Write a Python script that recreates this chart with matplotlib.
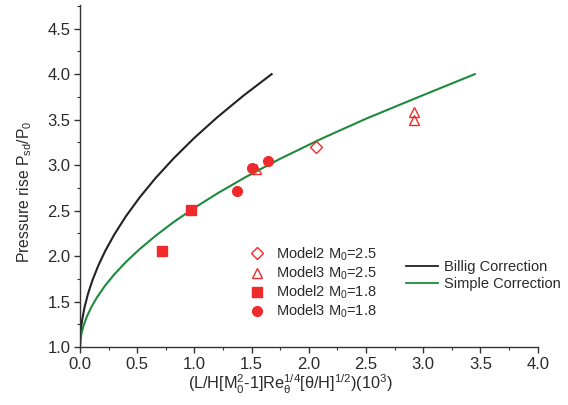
import matplotlib
matplotlib.use("Agg")
import matplotlib.pyplot as plt
from matplotlib.ticker import MultipleLocator

plt.rcParams['font.family'] = ['Liberation Sans', 'DejaVu Sans']
plt.rcParams['mathtext.default'] = 'regular'

# Correlation curves
billig_x = [0, 0.003, 0.01, 0.02, 0.04, 0.07, 0.11, 0.16, 0.22, 0.3, 0.4,
            0.52, 0.66, 0.82, 1.0, 1.2, 1.43, 1.675]
billig_y = [1.0, 1.115, 1.215, 1.307, 1.438, 1.585, 1.738, 1.895, 2.055, 2.237,
            2.435, 2.642, 2.857, 3.076, 3.30, 3.526, 3.765, 4.0]

simple_x = [0, 0.005, 0.015, 0.03, 0.06, 0.1, 0.15, 0.22, 0.3, 0.4, 0.52,
            0.66, 0.82, 1.0, 1.2, 1.45, 1.75, 2.1, 2.5, 2.95, 3.45]
simple_y = [1.0, 1.088, 1.158, 1.230, 1.335, 1.441, 1.549, 1.676, 1.799, 1.933,
            2.075, 2.222, 2.375, 2.53, 2.688, 2.870, 3.070, 3.284, 3.510, 3.744, 4.0]

# Experimental points
m2_25_x = [2.06]
m2_25_y = [3.20]
m3_25_x = [2.92, 2.92, 1.54]
m3_25_y = [3.58, 3.50, 2.96]
m2_18_x = [0.72, 0.97]
m2_18_y = [2.05, 2.51]
m3_18_x = [1.37, 1.50, 1.64]
m3_18_y = [2.71, 2.97, 3.05]

red = '#ee2a2a'
green = '#1e8a3c'
black = '#222222'
text_c = '#2a2a2a'

fig = plt.figure(figsize=(5.68, 4.05), dpi=100)
ax = fig.add_axes([80 / 568, 1 - 347 / 405, (537.7 - 80) / 568, (347 - 5) / 405])

l_billig, = ax.plot(billig_x, billig_y, color=black, lw=1.5, label='Billig Correction')
l_simple, = ax.plot(simple_x, simple_y, color=green, lw=1.5, label='Simple Correction')

h1, = ax.plot(m2_25_x, m2_25_y, ls='none', marker='D', ms=6, mfc='none', mec=red, mew=1.0,
              label='Model2 M$_0$=2.5')
h2, = ax.plot(m3_25_x, m3_25_y, ls='none', marker='^', ms=7.5, mfc='none', mec=red, mew=1.0,
              label='Model3 M$_0$=2.5')
h3, = ax.plot(m2_18_x, m2_18_y, ls='none', marker='s', ms=6.5, mfc=red, mec=red,
              label='Model2 M$_0$=1.8')
h4, = ax.plot(m3_18_x, m3_18_y, ls='none', marker='o', ms=7, mfc=red, mec=red,
              label='Model3 M$_0$=1.8')

ax.set_xlim(0, 4.0)
ax.set_ylim(1.0, 4.76)
ax.xaxis.set_major_locator(MultipleLocator(0.5))
ax.xaxis.set_minor_locator(MultipleLocator(0.25))
ax.yaxis.set_minor_locator(MultipleLocator(0.25))
ax.set_yticks([1.0, 1.5, 2.0, 2.5, 3.0, 3.5, 4.0, 4.5])

for s in ['top', 'right']:
    ax.spines[s].set_visible(False)
for s in ['left', 'bottom']:
    ax.spines[s].set_color('#333333')
    ax.spines[s].set_linewidth(1.0)

ax.tick_params(which='major', direction='out', length=4, width=1, colors='#333333',
               labelsize=12, labelcolor=text_c, pad=3)
ax.tick_params(which='minor', direction='out', length=2.5, width=0.8, colors='#333333')

ax.set_xlabel('(L/H[M$_0^2$-1]Re$_\\theta^{1/4}$[\u03b8/H]$^{1/2}$)(10$^3$)',
              fontsize=11.7, color=text_c, labelpad=3)
ax.xaxis.set_label_coords(0.46, -0.075)
ax.set_ylabel('Pressure rise P$_{sd}$/P$_0$', fontsize=11.3, color=text_c)
ax.yaxis.set_label_coords(-0.10, 0.455)

leg1 = fig.legend(handles=[h1, h2, h3, h4], loc='center left',
                  bbox_to_anchor=(250 / 568, 1 - 283 / 405), frameon=False,
                  fontsize=10.5, handlelength=1.0, handletextpad=0.8,
                  labelspacing=0.12, borderpad=0, borderaxespad=0, labelcolor=text_c)
leg2 = fig.legend(handles=[l_billig, l_simple], loc='center left',
                  bbox_to_anchor=(405.7 / 568, 1 - 275.5 / 405), frameon=False,
                  fontsize=10.5, handlelength=2.2, handletextpad=0.4,
                  labelspacing=0.25, borderpad=0, borderaxespad=0, labelcolor=text_c)
for ln in leg2.get_lines():
    ln.set_linewidth(1.3)

fig.savefig('out.png', dpi=100)
